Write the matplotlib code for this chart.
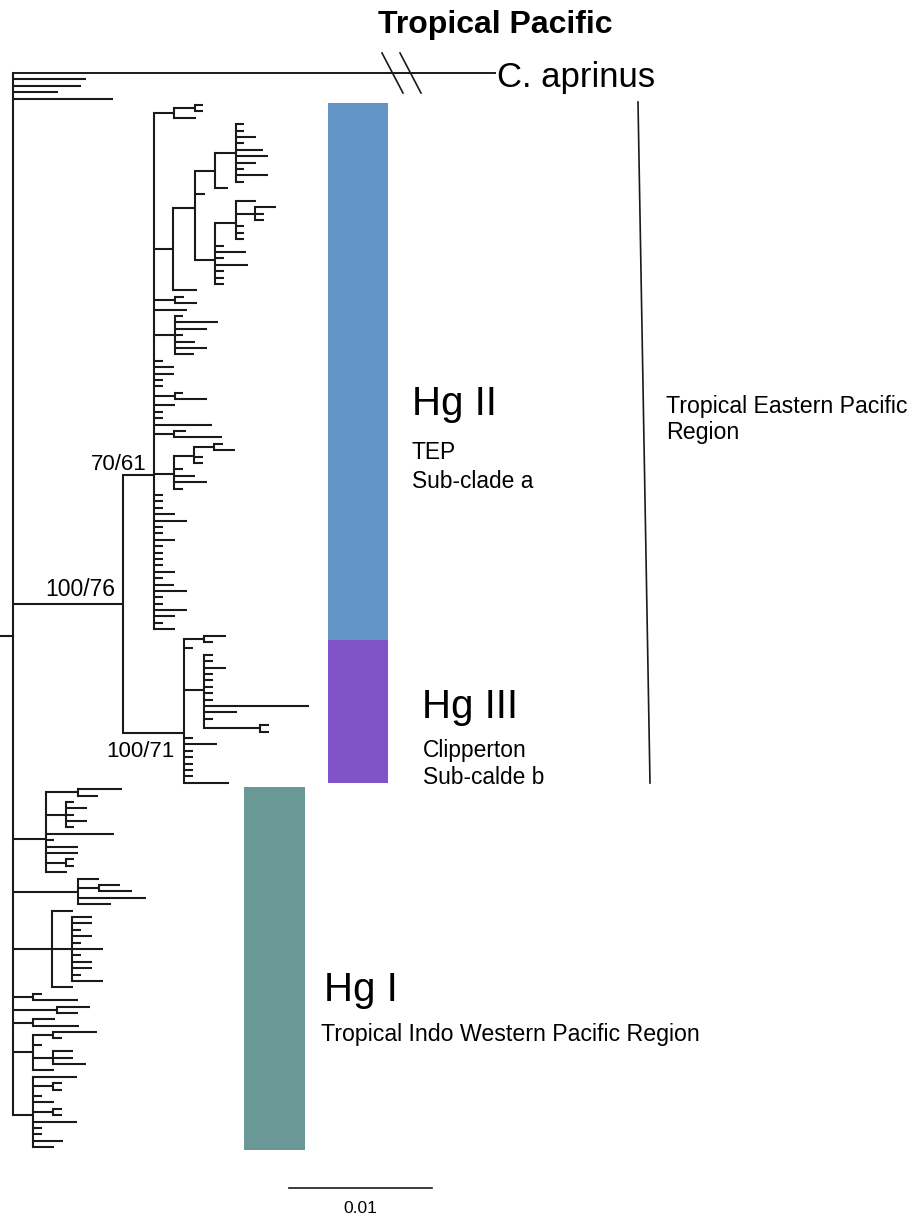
import matplotlib.pyplot as plt
from matplotlib.patches import Rectangle

plt.rcParams['font.family'] = ['Liberation Sans', 'DejaVu Sans']

# tree in Newick form, branch lengths in 1e-4 substitutions/site
clade_a = "((:5.6,:5.6):14.7,:15.4):14"
n236 = "(:5.6,:5.6,:14,:5.6,:18.9,:22.4,:14,:5.6,:22.4,:5.6):14.7"
n215 = "(" + n236 + ",:9.1):14"
n236b = "(:14,(:14.7,:6.3,:6.3):13.3,:5.6,:5.6,:5.6):14.7"
n215b = "(" + n236b + ",:6.3,:21.7,:6.3,:23,:6.3,:6.3,:6.3):14"
clade_b = "((" + n215 + ",:7," + n215b + "):15.4,:16.8):13.3"
clade_c = "(:6.3,:15.4):14.7"
clade_d = "(:5.6,:30,:22.4,:5.6,:14,:22.4,:13.3):14.7"
clade_e = "(:5.6,:22.4):14.7"
clade_f = "(:8.4,:33.6):14"
clade_g = "(((:6.3,:14.7):14,:6.3,:6.3):14,:6.3,:14.7,:23,:6.3):14"
hg2_tail = [6.3, 6.3, 6.3, 14.7, 23, 6.3, 6.3, 14.7, 6.3, 6.3, 6.3,
            6.3, 14.7, 6.3, 14, 23, 6.3, 6.3, 23, 14.7, 6.3, 14.7]
hg2 = ("(" + ",".join([clade_a, clade_b, clade_c, ":23", clade_d,
                       ":6.3,:14,:14,:6.3,:6.3", clade_e,
                       ":14.7,:6.3,:6.3,:40.5", clade_f, clade_g]
                      + [":%s" % v for v in hg2_tail]) + ")HgII:21.7")
hg3 = ("((:15.4,:6.3):14,:6.3,"
       "(:6.3,:6.3,:15.4,:6.3,:6.3,:6.3,:6.3,:6.3,:73.4,:23,:6.3,(:6.3,:6.3):39.2):14,"
       ":6.3,:23,:6.3,:6.3,:6.3,:6.3,:6.3,:31.5)HgIII:42.7")
clade1 = "((:30.8,:14):22.4,(:5.6,:14.7,:5.6,:14.7,:5.6):14,:47.6,:5.6,:22.4,:22.4,(:5.6,:5.6):14,:14.7):23"
clade2 = "(:14.7,(:14.7,:23):14.7,:47.6,:23):45.5"
clade3 = "(:14.7,(:14,:14,:6.3,:14,:6.3,:21.7,:6.3,:14,:14,:6.3,:21.7):14,:14.7):27.3"
pairs = ["(:6.3,:31.5):14", "(:23,:14.7):30.8", "(:15.4,:32.2):14"]
clade4 = "((:30.8,:6.3):14,:6.3,(:14,:14,:23):14,:14.7):14"
clade5 = "(:30.8,(:6.3,:6.3):14,:6.3,:14.7,(:6.3,:6.3):14,:30.8,:6.3,:6.3,:21,:14.7):14"
outgroup = "C. aprinus"
newick = ("(" + ",".join([outgroup + ":337", ":51,:47.5,:31.5,:70",
                          "(" + hg2 + "," + hg3 + ")HgII_III:77",
                          clade1, clade2, clade3] + pairs + [clade4, clade5]) + "):9;")

support = {"HgII_III": "100/76", "HgII": "70/61", "HgIII": "100/71"}


def parse_newick(s):
    pos = 0

    def node():
        nonlocal pos
        n = {"children": [], "name": "", "len": 0.0}
        if s[pos] == "(":
            pos += 1
            while True:
                n["children"].append(node())
                if s[pos] == ",":
                    pos += 1
                    continue
                pos += 1
                break
        start = pos
        while s[pos] not in ":,();":
            pos += 1
        n["name"] = s[start:pos]
        if s[pos] == ":":
            pos += 1
            start = pos
            while s[pos] not in ",();":
                pos += 1
            n["len"] = float(s[start:pos])
        return n

    return node()


tree = parse_newick(newick)
leaf_count = [0]
named = {}


def layout(n, x0):
    n["x"] = x0 + n["len"] if n is not tree else 0.0
    if n["name"]:
        named[n["name"]] = n
    if not n["children"]:
        n["y"] = leaf_count[0]
        n["rows"] = (n["y"], n["y"])
        leaf_count[0] += 1
        return
    for c in n["children"]:
        layout(c, n["x"])
    n["y"] = sum(c["y"] for c in n["children"]) / len(n["children"])
    n["rows"] = (n["children"][0]["rows"][0], n["children"][-1]["rows"][1])


layout(tree, 0.0)

W, H = 915, 1220
fig = plt.figure(figsize=(W / 100, H / 100), dpi=100)
ax = fig.add_axes([0, 0, 1, 1])
ax.set_xlim(-13 / 1.43, (W - 13) / 1.43)
ax.set_ylim((H - 73) / 6.394, -73 / 6.394)
ax.axis('off')


def X(px):
    return (px - 13) / 1.43


def Y(py):
    return (py - 73) / 6.394


lc = '#1a1a1a'
lw = 1.5


def draw(n):
    if n["children"]:
        ys = [c["y"] for c in n["children"]]
        ax.plot([n["x"], n["x"]], [min(ys), max(ys)], color=lc, lw=lw,
                solid_capstyle='projecting')
        for c in n["children"]:
            if c["name"] == outgroup:
                continue
            ax.plot([n["x"], c["x"]], [c["y"], c["y"]], color=lc, lw=lw,
                    solid_capstyle='butt')
            draw(c)


draw(tree)
# root stem
ax.plot([tree["x"] - tree["len"], tree["x"]], [tree["y"], tree["y"]], color=lc, lw=lw)

# outgroup branch, shortened with a break
og = named[outgroup]
ax.plot([0, og["x"]], [og["y"], og["y"]], color=lc, lw=1.4)
for bx in (382, 400):
    ax.plot([X(bx), X(bx + 21)], [Y(53), Y(93)], color=lc, lw=1.2)
ax.text(og["x"] + X(15), og["y"] + Y(87) - Y(73), outgroup, fontsize=25,
        ha='left', va='baseline')

# support values
sup_off = {"HgII_III": (-8, -8, 16.5), "HgII": (-8, -5, 16),
           "HgIII": (-10, 24, 16)}
for key, txt in support.items():
    n = named[key]
    dx, dy, fs = sup_off[key]
    ax.text(n["x"] + dx / 1.43, n["y"] + dy / 6.394, txt, fontsize=fs,
            ha='right', va='baseline')

# coloured haplogroup bars
hg2_rows = named["HgII"]["rows"]
hg3_rows = named["HgIII"]["rows"]
hg1_rows = (hg3_rows[1] + 1, leaf_count[0] - 1)
bars = [(hg2_rows[0] - 0.3, hg2_rows[1] + 1.7, 328, 388, '#6395c8'),
        (hg3_rows[0] + 0.7, hg3_rows[1] + 0.05, 328, 388, '#8053c9'),
        (hg1_rows[0] - 0.33, hg1_rows[1] + 0.4, 244, 305, '#699896')]
for y0, y1, x0, x1, col in bars:
    ax.add_patch(Rectangle((X(x0), y0), X(x1) - X(x0), y1 - y0,
                           facecolor=col, edgecolor='none'))

# region bracket
ax.plot([X(638), X(650)], [Y(102), Y(783)], color=lc, lw=1.2)

# labels
ax.text(X(495), Y(33), "Tropical Pacific", fontsize=23, fontweight='bold',
        ha='center', va='baseline')
ax.text(X(412), Y(415), "Hg II", fontsize=29, va='baseline')
ax.text(X(412), Y(459), "TEP", fontsize=16.4, va='baseline')
ax.text(X(412), Y(488), "Sub-clade a", fontsize=16.4, va='baseline')
ax.text(X(422), Y(718), "Hg III", fontsize=29, va='baseline')
ax.text(X(423), Y(757), "Clipperton", fontsize=16.4, va='baseline')
ax.text(X(423), Y(784), "Sub-calde b", fontsize=16.4, va='baseline')
ax.text(X(324), Y(1001), "Hg I", fontsize=29, va='baseline')
ax.text(X(321), Y(1041), "Tropical Indo Western Pacific Region", fontsize=16.7,
        va='baseline')
ax.text(X(666), Y(413), "Tropical Eastern Pacific", fontsize=16.7, va='baseline')
ax.text(X(666), Y(439), "Region", fontsize=16.7, va='baseline')

# scale bar
ax.plot([X(289), X(289) + 100], [Y(1188), Y(1188)], color=lc, lw=1.2)
ax.text(X(289) + 50, Y(1213), "0.01", fontsize=12.5, ha='center', va='baseline')

fig.savefig("out.png", dpi=100)
